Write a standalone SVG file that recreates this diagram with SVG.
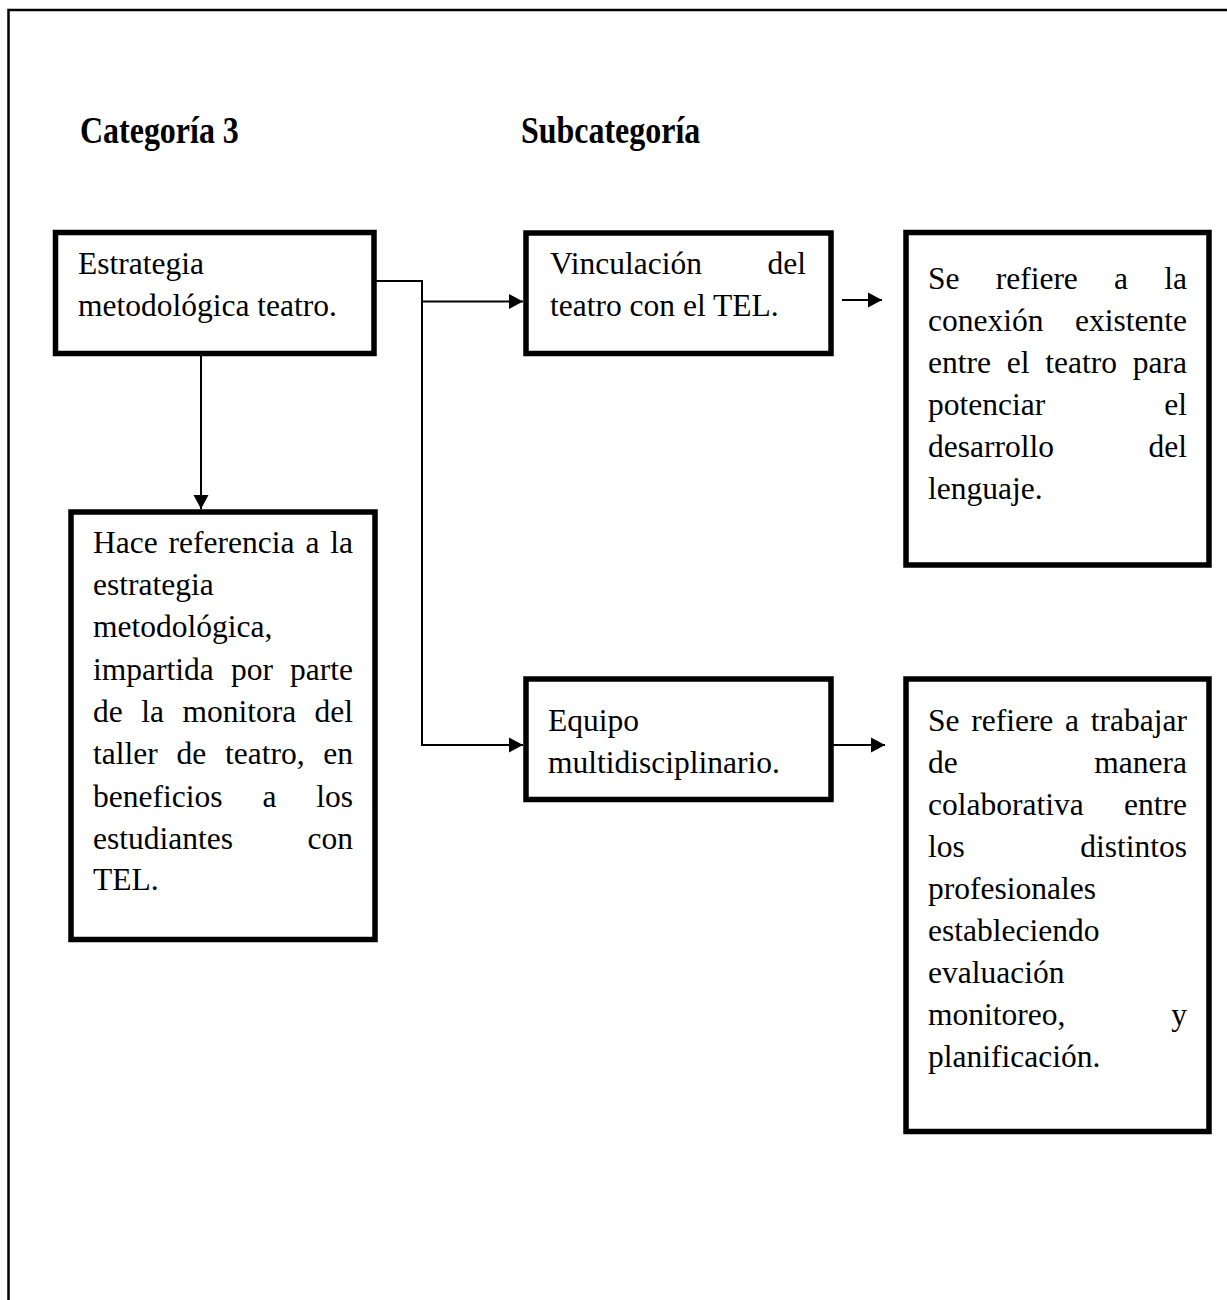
<svg xmlns="http://www.w3.org/2000/svg" width="1227" height="1300" viewBox="0 0 1227 1300">
<defs>
<style>
.box{fill:#fff;stroke:#000;stroke-width:5.5}
.t{font-family:"Liberation Serif","Times New Roman",serif;font-size:31.5px;fill:#000}
.e{text-anchor:end}
.title{font-family:"Liberation Serif","Times New Roman",serif;font-size:37px;font-weight:bold;fill:#000}
.ln{fill:none;stroke:#000;stroke-width:2}
</style>
<marker id="ah" markerUnits="userSpaceOnUse" markerWidth="15" markerHeight="16" refX="14" refY="8" orient="auto">
<path d="M0,0.5 L14,8 L0,15.5 z" fill="#000"/>
</marker>
</defs>
<rect width="1227" height="1300" fill="#fff"/>
<g id="frame">
<path d="M8.5,1300 V10 H1227" fill="none" stroke="#000" stroke-width="2.5"/>
</g>
<g id="titles">
<text class="title" transform="translate(80,143) scale(0.864,1)">Categoría 3</text>
<text class="title" transform="translate(521,143) scale(0.864,1)">Subcategoría</text>
</g>
<g id="connectors">
<path class="ln" d="M376,281 H422 V745 H523" marker-end="url(#ah)"/>
<path class="ln" d="M422,301.5 H523" marker-end="url(#ah)"/>
<path class="ln" d="M201,356 V509" marker-end="url(#ah)"/>
<path class="ln" d="M842,300 H882" marker-end="url(#ah)"/>
<path class="ln" d="M833,745 H885" marker-end="url(#ah)"/>
</g>
<g id="n1">
<rect class="box" x="55.5" y="232.5" width="318.5" height="121"/>
<text class="t" x="78" y="274">Estrategia</text>
<text class="t" x="78" y="316">metodológica teatro.</text>
</g>
<g id="n2">
<rect class="box" x="526" y="233" width="305" height="120.5"/>
<text class="t" x="550" y="273.5">Vinculación</text>
<text class="t e" x="806" y="273.5">del</text>
<text class="t" x="550" y="316">teatro con el TEL.</text>
</g>
<g id="n3">
<rect class="box" x="906" y="232.5" width="303" height="332.5"/>
<text class="t" x="928" y="289">Se</text>
<text class="t" x="995.7" y="289">refiere</text>
<text class="t" x="1114.1" y="289">a</text>
<text class="t e" x="1187" y="289">la</text>
<text class="t" x="928" y="331">conexión</text>
<text class="t e" x="1187" y="331">existente</text>
<text class="t" x="928" y="373">entre</text>
<text class="t" x="1006.8" y="373">el</text>
<text class="t" x="1045.3" y="373">teatro</text>
<text class="t e" x="1187" y="373">para</text>
<text class="t" x="928" y="415">potenciar</text>
<text class="t e" x="1187" y="415">el</text>
<text class="t" x="928" y="457">desarrollo</text>
<text class="t e" x="1187" y="457">del</text>
<text class="t" x="928" y="499">lenguaje.</text>
</g>
<g id="n4">
<rect class="box" x="71" y="512" width="304" height="427.5"/>
<text class="t" x="93" y="552.7">Hace</text>
<text class="t" x="168.6" y="552.7">referencia</text>
<text class="t" x="305.4" y="552.7">a</text>
<text class="t e" x="353" y="552.7">la</text>
<text class="t" x="93" y="594.5">estrategia</text>
<text class="t" x="93" y="636.7">metodológica,</text>
<text class="t" x="93" y="679.5">impartida</text>
<text class="t" x="230.9" y="679.5">por</text>
<text class="t e" x="353" y="679.5">parte</text>
<text class="t" x="93" y="721.7">de</text>
<text class="t" x="141.2" y="721.7">la</text>
<text class="t" x="182.4" y="721.7">monitora</text>
<text class="t e" x="353" y="721.7">del</text>
<text class="t" x="93" y="764.3">taller</text>
<text class="t" x="176.5" y="764.3">de</text>
<text class="t" x="225" y="764.3">teatro,</text>
<text class="t e" x="353" y="764.3">en</text>
<text class="t" x="93" y="806.7">beneficios</text>
<text class="t" x="262.4" y="806.7">a</text>
<text class="t e" x="353" y="806.7">los</text>
<text class="t" x="93" y="848.5">estudiantes</text>
<text class="t e" x="353" y="848.5">con</text>
<text class="t" x="93" y="890.3">TEL.</text>
</g>
<g id="n5">
<rect class="box" x="526" y="679" width="305" height="120.5"/>
<text class="t" x="548" y="731">Equipo</text>
<text class="t" x="548" y="773">multidisciplinario.</text>
</g>
<g id="n6">
<rect class="box" x="906" y="679" width="303" height="452.5"/>
<text class="t" x="928" y="731">Se</text>
<text class="t" x="971.2" y="731">refiere</text>
<text class="t" x="1065.1" y="731">a</text>
<text class="t e" x="1187" y="731">trabajar</text>
<text class="t" x="928" y="773">de</text>
<text class="t e" x="1187" y="773">manera</text>
<text class="t" x="928" y="815">colaborativa</text>
<text class="t e" x="1187" y="815">entre</text>
<text class="t" x="928" y="857">los</text>
<text class="t e" x="1187" y="857">distintos</text>
<text class="t" x="928" y="899">profesionales</text>
<text class="t" x="928" y="941">estableciendo</text>
<text class="t" x="928" y="983">evaluación</text>
<text class="t" x="928" y="1025">monitoreo,</text>
<text class="t e" x="1187" y="1025">y</text>
<text class="t" x="928" y="1067">planificación.</text>
</g>
</svg>
